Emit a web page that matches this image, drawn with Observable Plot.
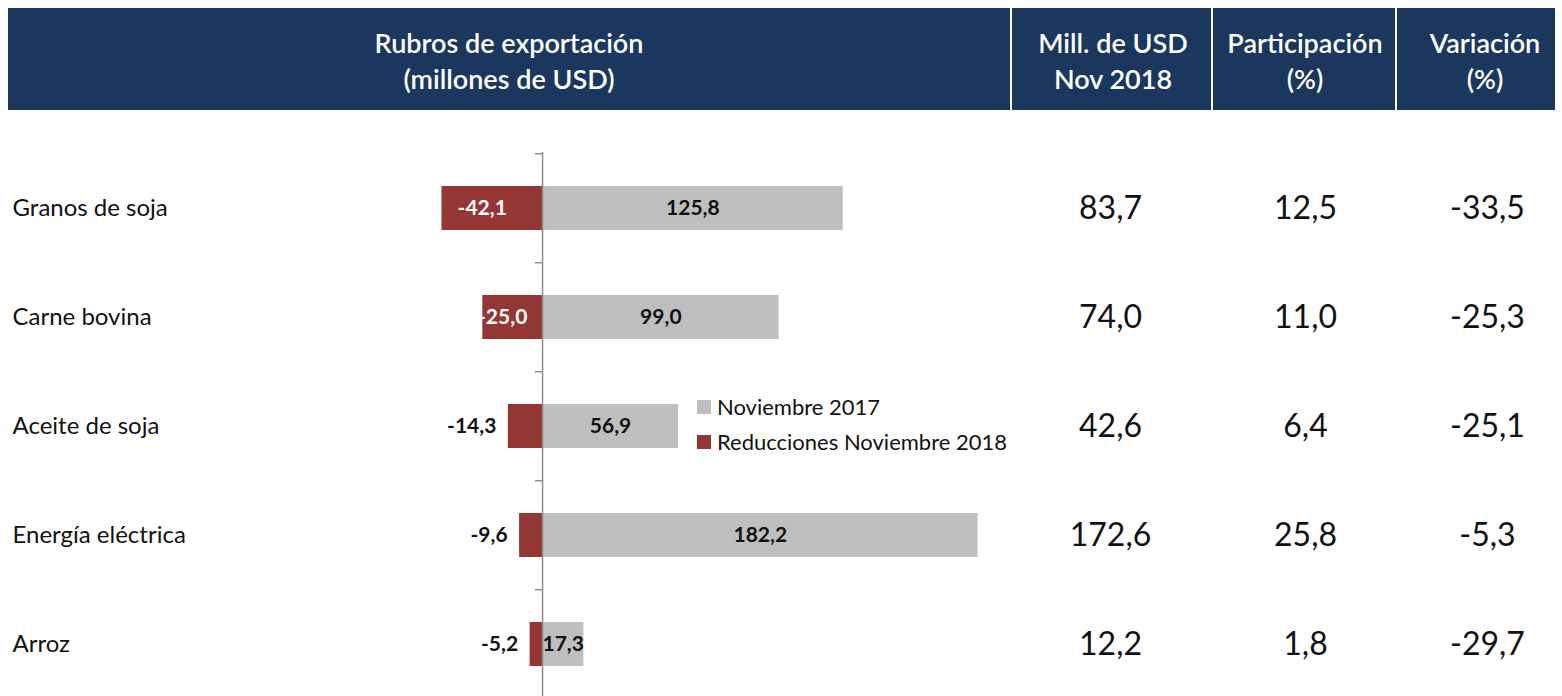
<!DOCTYPE html>
<html>
<head>
<meta charset="utf-8">
<script src="https://cdn.jsdelivr.net/npm/d3@7"></script>
<script src="https://cdn.jsdelivr.net/npm/@observablehq/plot@0.6"></script>
<style>
  html, body { margin: 0; padding: 0; background: #fff; overflow: hidden; }
  body { font-family: Lato, "Open Sans", sans-serif; }
  #wrap { position: relative; width: 1562px; height: 696px; }
  #header { position: absolute; left: 8px; top: 8px; width: 1547px; height: 102px; background: #1b375e; }
  .hcell { position: absolute; top: 2px; height: 102px; display: flex; align-items: center; justify-content: center;
           color: #fff; font-size: 27px; font-weight: 600; line-height: 36px; text-align: center; }
  .sep { position: absolute; top: 0; width: 2px; height: 102px; background: #fff; }
  #chart { position: absolute; left: 0; top: 110px; }
  #legend { position: absolute; left: 697px; top: 389px; font-size: 22px; color: #111; }
  .li { display: flex; align-items: center; height: 35px; }
  .sw { width: 14px; height: 14px; margin-right: 6px; }
</style>
</head>
<body>
<div id="wrap">
  <div id="header"></div>
  <div id="chart"></div>
  <div id="legend"></div>
</div>
<script>
// ---- data ----
const categories = ["Granos de soja", "Carne bovina", "Aceite de soja", "Energía eléctrica", "Arroz"];
const nov2017 = [125.8, 99.0, 56.9, 182.2, 17.3];
const reducciones = [-42.1, -25.0, -14.3, -9.6, -5.2];
const millNov2018 = [83.7, 74.0, 42.6, 172.6, 12.2];
const participacion = [12.5, 11.0, 6.4, 25.8, 1.8];
const variacion = [-33.5, -25.3, -25.1, -5.3, -29.7];
const seriesNames = ["Noviembre 2017", "Reducciones Noviembre 2018"];
const headers = [
  ["Rubros de exportación", "(millones de USD)"],
  ["Mill. de USD", "Nov 2018"],
  ["Participación", "(%)"],
  ["Variación", "(%)"]
];

const GRAY = "#bfbfbf", RED = "#943634";
const fmt = v => v.toFixed(1).replace(".", ",");

// ---- header ----
const header = document.getElementById("header");
const cells = [[0, 1002], [1004, 202], [1206, 182], [1390, 174]];
headers.forEach((h, i) => {
  const d = document.createElement("div");
  d.className = "hcell";
  d.style.left = cells[i][0] + "px";
  d.style.width = cells[i][1] + "px";
  d.innerHTML = h[0] + "<br>" + h[1];
  header.appendChild(d);
});
[1002, 1203, 1387].forEach(x => {
  const s = document.createElement("div");
  s.className = "sep"; s.style.left = x + "px";
  header.appendChild(s);
});

// ---- table rows ----
const rows = categories.map((c, i) => ({
  cat: c, v17: nov2017[i], red: reducciones[i],
  mill: millNov2018[i], part: participacion[i], vari: variacion[i]
}));

const H = 590, MT = 42;
const step = (H - MT) / categories.length;

const chart = Plot.plot({
  width: 1562,
  height: H,
  marginTop: MT,
  marginBottom: 0,
  marginLeft: 0,
  marginRight: 552,
  style: { fontFamily: "Lato, 'Open Sans', sans-serif", background: "transparent", overflow: "visible" },
  x: { domain: [-226.8, 195.8], axis: null },
  y: { domain: categories, paddingInner: 0.6, paddingOuter: 0.3, axis: null },
  marks: [
    Plot.barX(rows, { y: "cat", x1: 0, x2: "v17", fill: GRAY }),
    Plot.barX(rows, { y: "cat", x1: "red", x2: 0, fill: RED }),
    Plot.ruleX([0], { stroke: "#8c8c8c", strokeWidth: 1.5 }),
    Plot.ruleY(categories, { y: d => d, x1: -3, x2: 0, dy: -step / 2, stroke: "#8c8c8c", strokeWidth: 1.5 }),
    // gray bar labels
    Plot.text(rows, { y: "cat", x: d => d.v17 / 2, text: d => fmt(d.v17), fontSize: 21, fontWeight: 700, fill: "#111" }),
    // red labels: inside for large, outside for small
    Plot.text(rows.filter(d => d.red < -20), { y: "cat", x: d => d.red / 2, dx: -10, text: d => fmt(d.red), fontSize: 21, fontWeight: 700, fill: "#fff" }),
    Plot.text(rows.filter(d => d.red >= -20), { y: "cat", x: "red", dx: -12, textAnchor: "end", text: d => fmt(d.red), fontSize: 21, fontWeight: 700, fill: "#111" }),
    // category labels
    Plot.text(rows, { y: "cat", frameAnchor: "left", textAnchor: "start", dx: 12, text: "cat", fontSize: 24, fill: "#111" }),
    // table columns
    Plot.text(rows, { y: "cat", frameAnchor: "right", textAnchor: "middle", dx: 100, text: d => fmt(d.mill), fontSize: 32, fill: "#111" }),
    Plot.text(rows, { y: "cat", frameAnchor: "right", textAnchor: "middle", dx: 295, text: d => fmt(d.part), fontSize: 32, fill: "#111" }),
    Plot.text(rows, { y: "cat", frameAnchor: "right", textAnchor: "middle", dx: 477, text: d => fmt(d.vari), fontSize: 32, fill: "#111" })
  ]
});
document.getElementById("chart").appendChild(chart);

// ---- legend ----
const legend = document.getElementById("legend");
[[seriesNames[0], GRAY], [seriesNames[1], RED]].forEach(([name, col]) => {
  const li = document.createElement("div");
  li.className = "li";
  li.innerHTML = `<div class="sw" style="background:${col}"></div><span>${name}</span>`;
  legend.appendChild(li);
});
</script>
</body>
</html>
